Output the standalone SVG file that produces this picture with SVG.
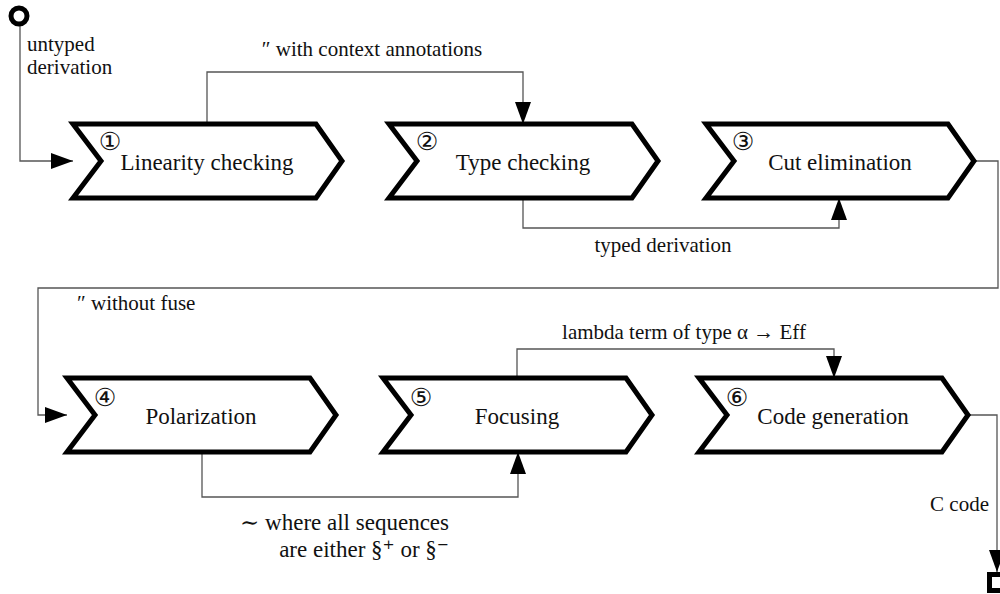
<svg xmlns="http://www.w3.org/2000/svg" width="1000" height="594" viewBox="0 0 1000 594">
<defs>
<marker id="ah" markerUnits="userSpaceOnUse" markerWidth="24" markerHeight="18" refX="22" refY="8" orient="auto">
<path d="M0,0 L22,8 L0,16 z" fill="#000"/>
</marker>
<style>
.chev{fill:#fff;stroke:#000;stroke-width:5;stroke-linejoin:miter}
.lbl{font-family:"Liberation Serif","Times New Roman",Times,"DejaVu Serif",serif;font-size:23px;fill:#111;text-anchor:middle}
.num{font-family:"DejaVu Sans",sans-serif;font-size:25px;fill:#111;text-anchor:middle}
.ann{font-family:"Liberation Serif","Times New Roman",Times,"DejaVu Serif",serif;font-size:21px;fill:#111}
.ann2{font-family:"Liberation Serif","Times New Roman",Times,"DejaVu Serif",serif;font-size:23px;fill:#111;text-anchor:end}
.con{fill:none;stroke:#555;stroke-width:1.3}
</style>
</defs>
<rect width="1000" height="594" fill="#fff"/>
<g id="connectors">
<path class="con" d="M20,16 V161 H73" marker-end="url(#ah)"/>
<path class="con" d="M207,124 V72 H523 V124" marker-end="url(#ah)"/>
<path class="con" d="M523,198 V228 H839 V198" marker-end="url(#ah)"/>
<path class="con" d="M974,161 H998 V288 H38 V415 H67" marker-end="url(#ah)"/>
<path class="con" d="M202,452 V497 H518 V452" marker-end="url(#ah)"/>
<path class="con" d="M517,378 V349 H834 V378" marker-end="url(#ah)"/>
<path class="con" d="M968,415 H997 V572" marker-end="url(#ah)"/>
</g>
<g id="start"><circle cx="19" cy="16" r="8" fill="#fff" stroke="#000" stroke-width="5"/></g>
<g id="end"><rect x="989.5" y="574.5" width="20" height="16" fill="#fff" stroke="#000" stroke-width="5"/></g>
<g id="labels">
<text class="ann" x="27" y="51">untyped</text>
<text class="ann" x="27" y="74">derivation</text>
<text class="ann" x="372" y="56" text-anchor="middle">″ with context annotations</text>
<text class="ann" x="663" y="252" text-anchor="middle">typed derivation</text>
<text class="ann" x="77" y="310">″ without fuse</text>
<text class="ann2" x="449" y="530">∼ where all sequences</text>
<text class="ann2" x="449" y="557">are either §⁺ or §⁻</text>
<text class="ann" x="684" y="339" text-anchor="middle">lambda term of type α → Eff</text>
<text class="ann" x="989" y="511" text-anchor="end">C code</text>
</g>
<g id="node1">
<path class="chev" d="M73,124 H316 L342,161 L316,198 H73 L101,161 Z"/>
<text class="num" x="110" y="150">①</text>
<text class="lbl" x="207" y="170">Linearity checking</text>
</g>
<g id="node2">
<path class="chev" d="M389,124 H632 L658,161 L632,198 H389 L417,161 Z"/>
<text class="num" x="427" y="150">②</text>
<text class="lbl" x="523" y="170">Type checking</text>
</g>
<g id="node3">
<path class="chev" d="M706,124 H948 L974,161 L948,198 H706 L734,161 Z"/>
<text class="num" x="743" y="150">③</text>
<text class="lbl" x="840" y="170">Cut elimination</text>
</g>
<g id="node4">
<path class="chev" d="M67,378 H310 L336,415 L310,452 H67 L95,415 Z"/>
<text class="num" x="105" y="406">④</text>
<text class="lbl" x="201" y="424">Polarization</text>
</g>
<g id="node5">
<path class="chev" d="M383,378 H626 L652,415 L626,452 H383 L411,415 Z"/>
<text class="num" x="421" y="406">⑤</text>
<text class="lbl" x="517" y="424">Focusing</text>
</g>
<g id="node6">
<path class="chev" d="M699,378 H942 L968,415 L942,452 H699 L727,415 Z"/>
<text class="num" x="737" y="406">⑥</text>
<text class="lbl" x="833" y="424">Code generation</text>
</g>
</svg>
